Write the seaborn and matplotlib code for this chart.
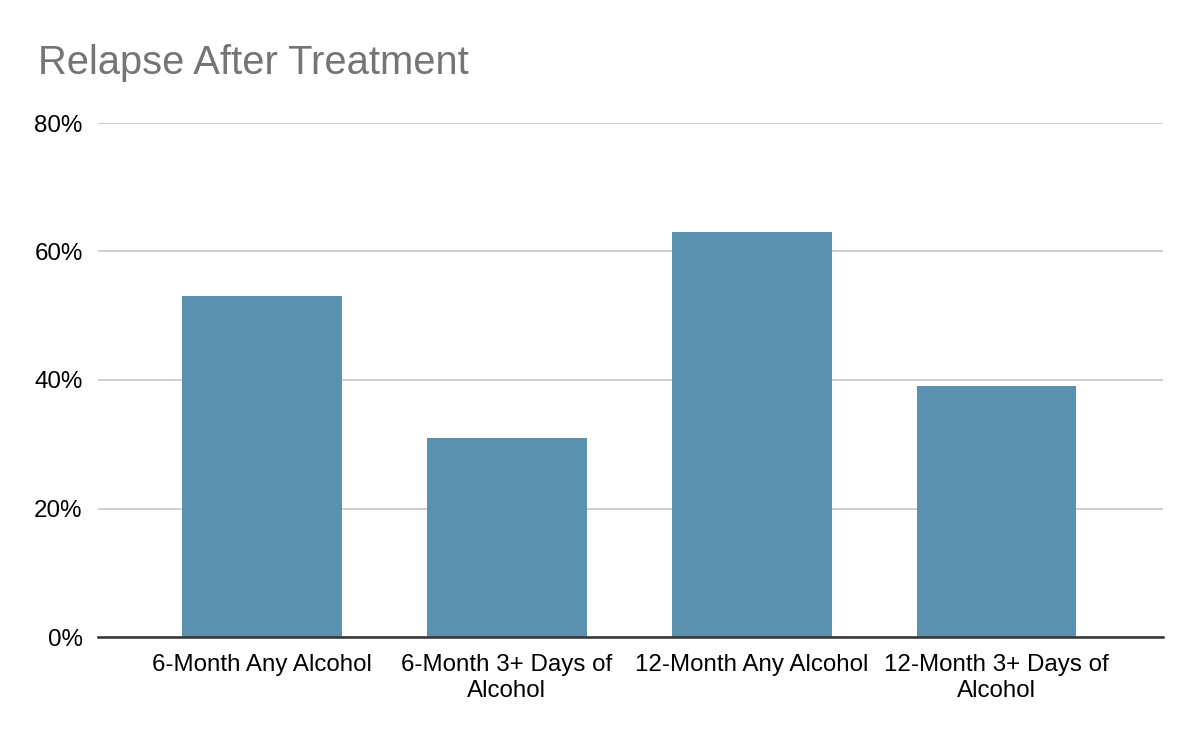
import matplotlib
matplotlib.use("Agg")
import matplotlib.pyplot as plt
import seaborn as sns
import pandas as pd
from matplotlib.ticker import FuncFormatter

categories = ["6-Month Any Alcohol", "6-Month 3+ Days of\nAlcohol",
              "12-Month Any Alcohol", "12-Month 3+ Days of\nAlcohol"]
values = [53, 31, 63, 39]
yticks = [0, 20, 40, 60, 80]

sns.set_theme(style="white")
plt.rcParams['font.family'] = ['Liberation Sans', 'DejaVu Sans']

df = pd.DataFrame({"cat": categories, "val": values})

fig = plt.figure(figsize=(12, 7.42), dpi=100)
ax = fig.add_axes([98/1200, 1 - 637/742, (1163-98)/1200, (637-123)/742])

sns.barplot(data=df, x="cat", y="val", color="#5991ae", saturation=1,
            width=0.653, linewidth=0, ax=ax, zorder=3)

ax.set_xlim(-0.67, 3.68)
ax.set_ylim(0, 80)
ax.set_yticks(yticks)
ax.yaxis.set_major_formatter(FuncFormatter(lambda v, p: f"{int(v)}%"))
ax.grid(axis="y", color="#cccccc", linewidth=1.3, zorder=0)
ax.grid(axis="x", visible=False)
for s in ["top", "right", "left"]:
    ax.spines[s].set_visible(False)
ax.spines["bottom"].set_color("#333333")
ax.spines["bottom"].set_linewidth(1.8)
ax.spines["bottom"].set_zorder(4)
ax.tick_params(axis="both", length=0, labelsize=17.4, colors="#000000")
ax.tick_params(axis="x", pad=12)
ax.tick_params(axis="y", pad=11)
for lbl in ax.get_xticklabels():
    lbl.set_linespacing(1.25)
ax.set_xlabel("")
ax.set_ylabel("")

fig.text(38/1200, 1 - 63/742, "Relapse After Treatment", fontsize=28.7,
         color="#757575", ha="left", va="center")

fig.savefig("out.png", dpi=100)
